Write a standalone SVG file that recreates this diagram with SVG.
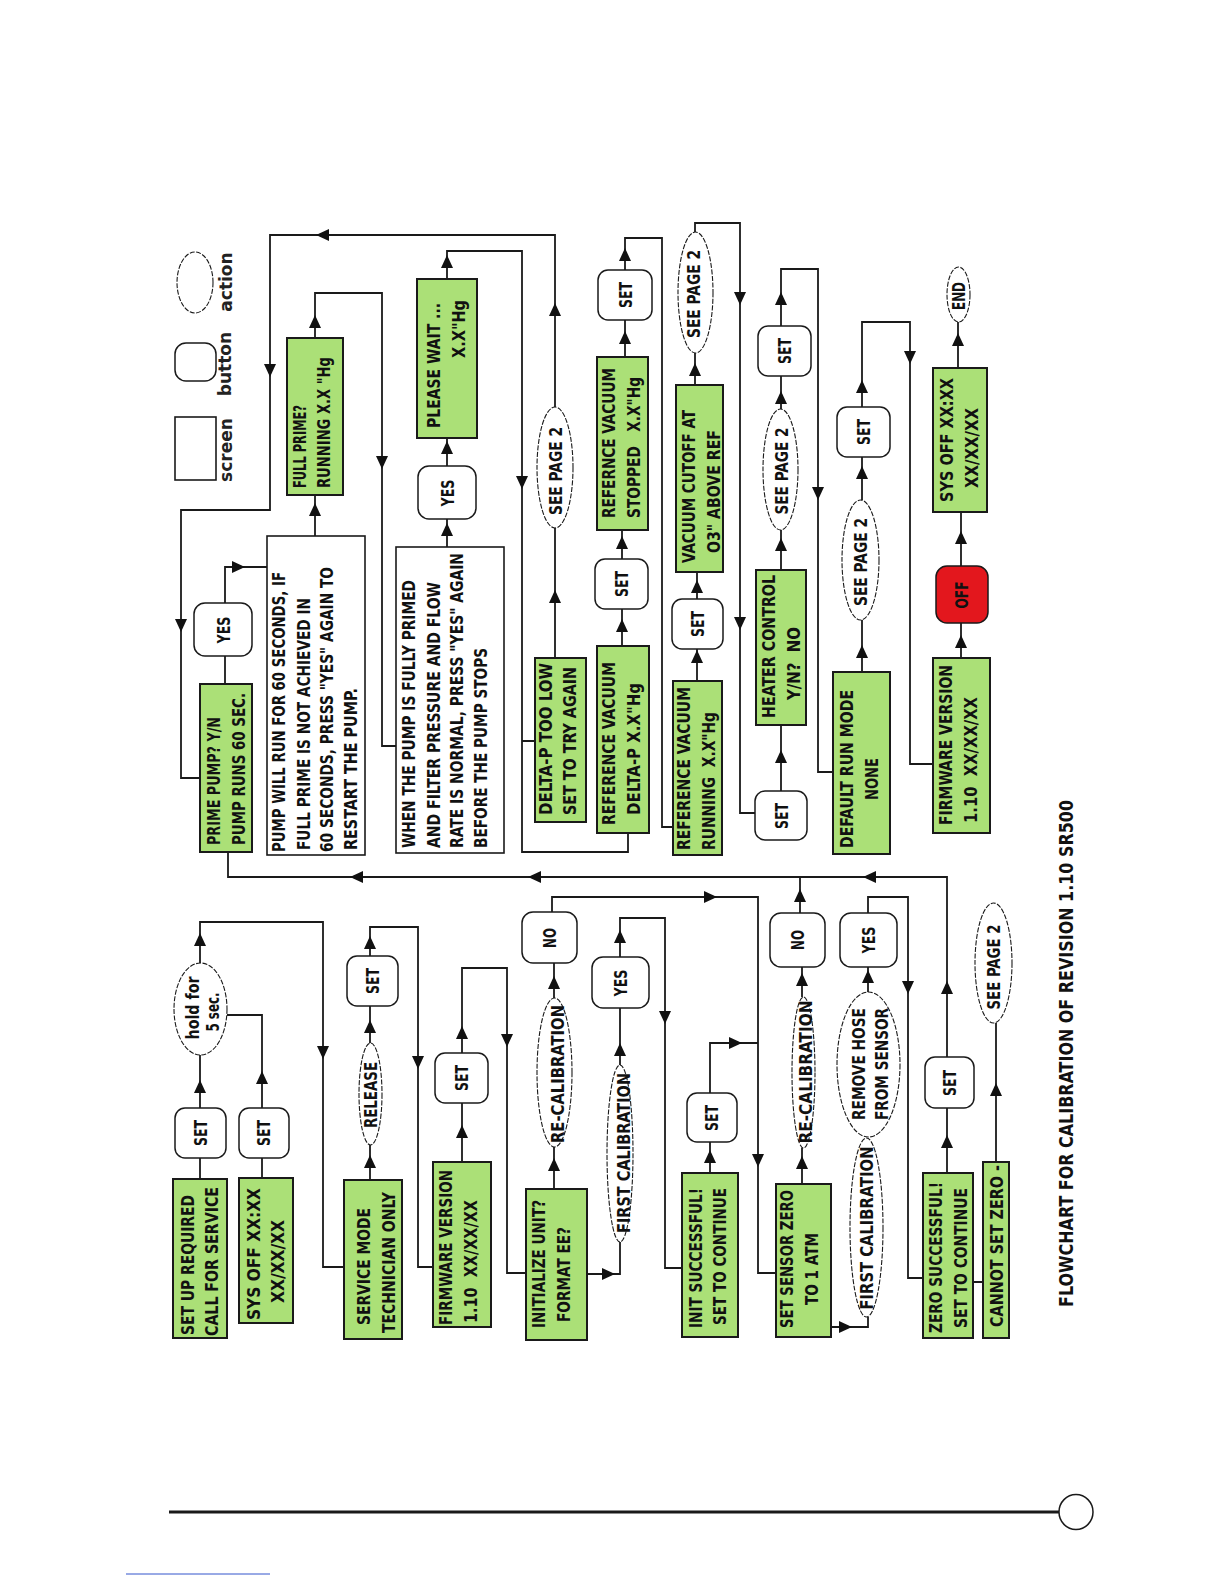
<svg xmlns="http://www.w3.org/2000/svg" xmlns:xlink="http://www.w3.org/1999/xlink" width="1224" height="1584" viewBox="0 0 1224 1584">
<style>
.scr{fill:#abe077;stroke:#1a1a1a;stroke-width:2}
.note{fill:#fff;stroke:#1a1a1a;stroke-width:1.6}
.btn{fill:#fff;stroke:#1a1a1a;stroke-width:1.5}
.off{fill:#e3171d;stroke:#1a1a1a;stroke-width:1.5}
.act{fill:#fff;stroke:#1a1a1a;stroke-width:1.1;stroke-dasharray:5 1.5}
.ln{fill:none;stroke:#1a1a1a;stroke-width:1.8}
.t{font-family:"DejaVu Sans Condensed","DejaVu Sans",sans-serif;font-weight:bold;font-size:18.5px;fill:#111;white-space:pre}
.c{text-anchor:middle}
.lg{font-family:"DejaVu Sans","Liberation Sans",sans-serif;font-weight:bold;font-size:17px;fill:#222;text-anchor:middle}
.ti{font-family:"DejaVu Sans Condensed","DejaVu Sans",sans-serif;font-weight:bold;font-size:20px;fill:#111}
</style>
<defs>
<path id="ah" d="M7,0 L-6,-6 L-6,6 Z" fill="#111"/>
</defs>
<rect width="1224" height="1584" fill="#fff"/>
<g id="connectors">
<path class="ln" d="M200,1179V1158 M200,1108V1055 M200,963V922H323V1267H344 M262,1178V1158 M262,1108V1015H227 M370,1180V1145 M370,1043V1006 M370,956V927H418V1267H433 M462,1162V1103 M462,1053V968H507V1273H526 M554,1189V1147 M554,998V963 M552,912V897H758V1273H776 M587,1274H620V1242 M620,1065V1008 M620,957V918H665V1268H682 M710,1173V1142 M710,1093V1043H758 M802,1184V1148 M802,997V967 M800,915V877 M831,1327H868V1317 M868,992V967 M868,913V897H908V1278H923 M947,1173V1108 M947,1057V877H228V852 M973,1282H983 M996,1162V1023"/>
<path class="ln" d="M225,684V656 M225,603V567H267 M315,536V495 M315,338V293H382V746H396 M447,547V519 M447,466V438 M447,279V251H522V852H628V833 M522,741H535 M555,658V528 M555,407V235H270V510H181V778H200 M622,646V609 M622,559V530 M625,357V320 M625,270V238H662V827H673 M697,681V649 M697,599V572 M695,385V353 M695,232V223H740V813H755 M781,791V725 M781,570V530 M781,409V376 M781,326V269H818V772H833 M862,672V620 M862,500V457 M862,407V322H910V764H933 M961,658V623 M961,566V512 M958,368V322"/>
<g id="arrows-up">
<use xlink:href="#ah" transform="translate(200,1087) rotate(-90)"/>
<use xlink:href="#ah" transform="translate(200,940) rotate(-90)"/>
<use xlink:href="#ah" transform="translate(262,1078) rotate(-90)"/>
<use xlink:href="#ah" transform="translate(370,1162) rotate(-90)"/>
<use xlink:href="#ah" transform="translate(370,1027) rotate(-90)"/>
<use xlink:href="#ah" transform="translate(370,943) rotate(-90)"/>
<use xlink:href="#ah" transform="translate(462,1132) rotate(-90)"/>
<use xlink:href="#ah" transform="translate(462,1033) rotate(-90)"/>
<use xlink:href="#ah" transform="translate(554,1165) rotate(-90)"/>
<use xlink:href="#ah" transform="translate(554,983) rotate(-90)"/>
<use xlink:href="#ah" transform="translate(620,1050) rotate(-90)"/>
<use xlink:href="#ah" transform="translate(620,937) rotate(-90)"/>
<use xlink:href="#ah" transform="translate(710,1157) rotate(-90)"/>
<use xlink:href="#ah" transform="translate(802,1163) rotate(-90)"/>
<use xlink:href="#ah" transform="translate(802,980) rotate(-90)"/>
<use xlink:href="#ah" transform="translate(800,896) rotate(-90)"/>
<use xlink:href="#ah" transform="translate(868,977) rotate(-90)"/>
<use xlink:href="#ah" transform="translate(947,1142) rotate(-90)"/>
<use xlink:href="#ah" transform="translate(947,988) rotate(-90)"/>
<use xlink:href="#ah" transform="translate(996,1090) rotate(-90)"/>
<use xlink:href="#ah" transform="translate(315,510) rotate(-90)"/>
<use xlink:href="#ah" transform="translate(315,322) rotate(-90)"/>
<use xlink:href="#ah" transform="translate(447,530) rotate(-90)"/>
<use xlink:href="#ah" transform="translate(447,448) rotate(-90)"/>
<use xlink:href="#ah" transform="translate(447,262) rotate(-90)"/>
<use xlink:href="#ah" transform="translate(555,597) rotate(-90)"/>
<use xlink:href="#ah" transform="translate(555,310) rotate(-90)"/>
<use xlink:href="#ah" transform="translate(622,626) rotate(-90)"/>
<use xlink:href="#ah" transform="translate(622,543) rotate(-90)"/>
<use xlink:href="#ah" transform="translate(625,338) rotate(-90)"/>
<use xlink:href="#ah" transform="translate(625,255) rotate(-90)"/>
<use xlink:href="#ah" transform="translate(697,657) rotate(-90)"/>
<use xlink:href="#ah" transform="translate(697,587) rotate(-90)"/>
<use xlink:href="#ah" transform="translate(695,370) rotate(-90)"/>
<use xlink:href="#ah" transform="translate(781,757) rotate(-90)"/>
<use xlink:href="#ah" transform="translate(781,545) rotate(-90)"/>
<use xlink:href="#ah" transform="translate(781,398) rotate(-90)"/>
<use xlink:href="#ah" transform="translate(781,299) rotate(-90)"/>
<use xlink:href="#ah" transform="translate(862,652) rotate(-90)"/>
<use xlink:href="#ah" transform="translate(862,473) rotate(-90)"/>
<use xlink:href="#ah" transform="translate(862,387) rotate(-90)"/>
<use xlink:href="#ah" transform="translate(961,642) rotate(-90)"/>
<use xlink:href="#ah" transform="translate(961,538) rotate(-90)"/>
<use xlink:href="#ah" transform="translate(958,340) rotate(-90)"/>
</g>
<g id="arrows-down">
<use xlink:href="#ah" transform="translate(323,1052) rotate(90)"/>
<use xlink:href="#ah" transform="translate(418,1062) rotate(90)"/>
<use xlink:href="#ah" transform="translate(507,1040) rotate(90)"/>
<use xlink:href="#ah" transform="translate(758,1160) rotate(90)"/>
<use xlink:href="#ah" transform="translate(665,1017) rotate(90)"/>
<use xlink:href="#ah" transform="translate(908,987) rotate(90)"/>
<use xlink:href="#ah" transform="translate(382,462) rotate(90)"/>
<use xlink:href="#ah" transform="translate(522,482) rotate(90)"/>
<use xlink:href="#ah" transform="translate(270,370) rotate(90)"/>
<use xlink:href="#ah" transform="translate(181,625) rotate(90)"/>
<use xlink:href="#ah" transform="translate(740,298) rotate(90)"/>
<use xlink:href="#ah" transform="translate(740,623) rotate(90)"/>
<use xlink:href="#ah" transform="translate(818,493) rotate(90)"/>
<use xlink:href="#ah" transform="translate(910,357) rotate(90)"/>
</g>
<g id="arrows-side">
<use xlink:href="#ah" transform="translate(710,897)"/>
<use xlink:href="#ah" transform="translate(608,1274)"/>
<use xlink:href="#ah" transform="translate(735,1043)"/>
<use xlink:href="#ah" transform="translate(845,1327)"/>
<use xlink:href="#ah" transform="translate(238,567)"/>
<use xlink:href="#ah" transform="translate(870,877) rotate(180)"/>
<use xlink:href="#ah" transform="translate(535,877) rotate(180)"/>
<use xlink:href="#ah" transform="translate(357,877) rotate(180)"/>
<use xlink:href="#ah" transform="translate(323,235) rotate(180)"/>
</g>
</g>
<g id="legend">
<rect class="note" x="175" y="417" width="41" height="63"/>
<text class="lg" transform="translate(232,450) rotate(-90)">screen</text>
<rect class="btn" x="175" y="343" width="41" height="38" rx="11"/>
<text class="lg" transform="translate(231,364) rotate(-90)">button</text>
<ellipse class="act" cx="195" cy="282.5" rx="18" ry="30.5"/>
<text class="lg" transform="translate(232,282) rotate(-90)">action</text>
</g>
<g id="n-setup"><rect class="scr" x="173" y="1179" width="54" height="159"/>
<text class="t" transform="translate(194,1335) rotate(-90)" textLength="140" lengthAdjust="spacingAndGlyphs">SET UP REQUIRED</text>
<text class="t" transform="translate(218,1336) rotate(-90)" textLength="149" lengthAdjust="spacingAndGlyphs">CALL FOR SERVICE</text></g>
<g id="n-set1"><rect class="btn" x="175" y="1108" width="51" height="50" rx="10"/>
<text class="t c" transform="translate(207,1133) rotate(-90)" textLength="26" lengthAdjust="spacingAndGlyphs">SET</text></g>
<g id="n-hold"><ellipse class="act" cx="200.5" cy="1009" rx="26.5" ry="46"/>
<text class="t c" transform="translate(199,1008) rotate(-90)" textLength="63" lengthAdjust="spacingAndGlyphs">hold for</text>
<text class="t c" transform="translate(219,1012) rotate(-90)" textLength="39" lengthAdjust="spacingAndGlyphs">5 sec.</text></g>
<g id="n-sysoff1"><rect class="scr" x="239" y="1178" width="54" height="145"/>
<text class="t" transform="translate(260,1320) rotate(-90)" textLength="132" lengthAdjust="spacingAndGlyphs">SYS OFF XX:XX</text>
<text class="t" transform="translate(284,1303) rotate(-90)" textLength="83" lengthAdjust="spacingAndGlyphs">XX/XX/XX</text></g>
<g id="n-set2"><rect class="btn" x="239" y="1108" width="50" height="50" rx="10"/>
<text class="t c" transform="translate(270,1133) rotate(-90)" textLength="26" lengthAdjust="spacingAndGlyphs">SET</text></g>
<g id="n-service"><rect class="scr" x="344" y="1180" width="58" height="159"/>
<text class="t" transform="translate(370,1325) rotate(-90)" textLength="117" lengthAdjust="spacingAndGlyphs">SERVICE MODE</text>
<text class="t" transform="translate(395,1333) rotate(-90)" textLength="141" lengthAdjust="spacingAndGlyphs">TECHNICIAN ONLY</text></g>
<g id="n-release"><ellipse class="act" cx="370.5" cy="1094" rx="11.5" ry="51"/>
<text class="t c" transform="translate(377,1095) rotate(-90)" textLength="66" lengthAdjust="spacingAndGlyphs">RELEASE</text></g>
<g id="n-set3"><rect class="btn" x="347" y="956" width="51" height="50" rx="10"/>
<text class="t c" transform="translate(379,981) rotate(-90)" textLength="26" lengthAdjust="spacingAndGlyphs">SET</text></g>
<g id="n-fw1"><rect class="scr" x="433" y="1162" width="58" height="165"/>
<text class="t" transform="translate(452,1325) rotate(-90)" textLength="155" lengthAdjust="spacingAndGlyphs">FIRMWARE VERSION</text>
<text class="t" transform="translate(477,1323) rotate(-90)" textLength="123" lengthAdjust="spacingAndGlyphs">1.10&#160; XX/XX/XX</text></g>
<g id="n-set4"><rect class="btn" x="435" y="1053" width="53" height="50" rx="10"/>
<text class="t c" transform="translate(468,1078) rotate(-90)" textLength="26" lengthAdjust="spacingAndGlyphs">SET</text></g>
<g id="n-init"><rect class="scr" x="526" y="1189" width="61" height="151"/>
<text class="t" transform="translate(545,1328) rotate(-90)" textLength="128" lengthAdjust="spacingAndGlyphs">INITIALIZE UNIT?</text>
<text class="t" transform="translate(570,1322) rotate(-90)" textLength="95" lengthAdjust="spacingAndGlyphs">FORMAT EE?</text></g>
<g id="n-recal1"><ellipse class="act" cx="554.5" cy="1072.5" rx="17.5" ry="74.5"/>
<text class="t c" transform="translate(564,1074) rotate(-90)" textLength="138" lengthAdjust="spacingAndGlyphs">RE-CALIBRATION</text></g>
<g id="n-no1"><rect class="btn" x="522" y="912" width="55" height="51" rx="11"/>
<text class="t c" transform="translate(556,938) rotate(-90)" textLength="20" lengthAdjust="spacingAndGlyphs">NO</text></g>
<g id="n-firstcal1"><ellipse class="act" cx="620" cy="1153.5" rx="13" ry="88.5"/>
<text class="t c" transform="translate(630,1153) rotate(-90)" textLength="160" lengthAdjust="spacingAndGlyphs">FIRST CALIBRATION</text></g>
<g id="n-yes1"><rect class="btn" x="592" y="957" width="57" height="51" rx="11"/>
<text class="t c" transform="translate(627,983) rotate(-90)" textLength="27" lengthAdjust="spacingAndGlyphs">YES</text></g>
<g id="n-initok"><rect class="scr" x="682" y="1173" width="56" height="164"/>
<text class="t" transform="translate(702,1328) rotate(-90)" textLength="140" lengthAdjust="spacingAndGlyphs">INIT SUCCESSFUL!</text>
<text class="t" transform="translate(726,1325) rotate(-90)" textLength="137" lengthAdjust="spacingAndGlyphs">SET TO CONTINUE</text></g>
<g id="n-set5"><rect class="btn" x="687" y="1093" width="50" height="49" rx="10"/>
<text class="t c" transform="translate(718,1118) rotate(-90)" textLength="26" lengthAdjust="spacingAndGlyphs">SET</text></g>
<g id="n-sensorzero"><rect class="scr" x="776" y="1184" width="55" height="153"/>
<text class="t" transform="translate(793,1328) rotate(-90)" textLength="138" lengthAdjust="spacingAndGlyphs">SET SENSOR ZERO</text>
<text class="t" transform="translate(818,1305) rotate(-90)" textLength="72" lengthAdjust="spacingAndGlyphs">TO 1 ATM</text></g>
<g id="n-recal2"><ellipse class="act" cx="803.5" cy="1072.5" rx="11.5" ry="75.5"/>
<text class="t c" transform="translate(812,1072) rotate(-90)" textLength="143" lengthAdjust="spacingAndGlyphs">RE-CALIBRATION</text></g>
<g id="n-no2"><rect class="btn" x="770" y="913" width="55" height="54" rx="11"/>
<text class="t c" transform="translate(804,940) rotate(-90)" textLength="20" lengthAdjust="spacingAndGlyphs">NO</text></g>
<g id="n-firstcal2"><ellipse class="act" cx="866.5" cy="1227.5" rx="16.5" ry="89.5"/>
<text class="t c" transform="translate(873,1228) rotate(-90)" textLength="163" lengthAdjust="spacingAndGlyphs">FIRST CALIBRATION</text></g>
<g id="n-hose"><ellipse class="act" cx="868.5" cy="1064.5" rx="31.5" ry="72.5"/>
<text class="t c" transform="translate(865,1064) rotate(-90)" textLength="112" lengthAdjust="spacingAndGlyphs">REMOVE HOSE</text>
<text class="t c" transform="translate(888,1064) rotate(-90)" textLength="112" lengthAdjust="spacingAndGlyphs">FROM SENSOR</text></g>
<g id="n-yes2"><rect class="btn" x="840" y="913" width="57" height="54" rx="11"/>
<text class="t c" transform="translate(875,940) rotate(-90)" textLength="27" lengthAdjust="spacingAndGlyphs">YES</text></g>
<g id="n-zerook"><rect class="scr" x="923" y="1173" width="50" height="165"/>
<text class="t" transform="translate(942,1333) rotate(-90)" textLength="151" lengthAdjust="spacingAndGlyphs">ZERO SUCCESSFUL!</text>
<text class="t" transform="translate(967,1328) rotate(-90)" textLength="140" lengthAdjust="spacingAndGlyphs">SET TO CONTINUE</text></g>
<g id="n-set6"><rect class="btn" x="925" y="1057" width="49" height="51" rx="10"/>
<text class="t c" transform="translate(956,1083) rotate(-90)" textLength="26" lengthAdjust="spacingAndGlyphs">SET</text></g>
<g id="n-cannot"><rect class="scr" x="983" y="1162" width="26" height="176"/>
<text class="t" transform="translate(1003,1327) rotate(-90)" textLength="162" lengthAdjust="spacingAndGlyphs">CANNOT SET ZERO -</text></g>
<g id="n-page2a"><ellipse class="act" cx="993.5" cy="963" rx="18.5" ry="60"/>
<text class="t c" transform="translate(1000,967) rotate(-90)" textLength="85" lengthAdjust="spacingAndGlyphs">SEE PAGE 2</text></g>
<g id="n-prime"><rect class="scr" x="200" y="684" width="52" height="168"/>
<text class="t" transform="translate(220,845) rotate(-90)" textLength="128" lengthAdjust="spacingAndGlyphs">PRIME PUMP? Y/N</text>
<text class="t" transform="translate(245,845) rotate(-90)" textLength="152" lengthAdjust="spacingAndGlyphs">PUMP RUNS 60 SEC.</text></g>
<g id="n-yes3"><rect class="btn" x="194" y="603" width="58" height="53" rx="11"/>
<text class="t c" transform="translate(230,630) rotate(-90)" textLength="27" lengthAdjust="spacingAndGlyphs">YES</text></g>
<g id="n-note1"><rect class="note" x="267" y="536" width="98" height="319"/>
<text class="t" transform="translate(285,852) rotate(-90)" textLength="280" lengthAdjust="spacingAndGlyphs">PUMP WILL RUN FOR 60 SECONDS, IF</text>
<text class="t" transform="translate(310,850) rotate(-90)" textLength="252" lengthAdjust="spacingAndGlyphs">FULL PRIME IS NOT ACHIEVED IN</text>
<text class="t" transform="translate(333,852) rotate(-90)" textLength="285" lengthAdjust="spacingAndGlyphs">60 SECONDS, PRESS "YES" AGAIN TO</text>
<text class="t" transform="translate(357,850) rotate(-90)" textLength="162" lengthAdjust="spacingAndGlyphs">RESTART THE PUMP.</text></g>
<g id="n-fullprime"><rect class="scr" x="287" y="338" width="56" height="157"/>
<text class="t" transform="translate(306,488) rotate(-90)" textLength="83" lengthAdjust="spacingAndGlyphs">FULL PRIME?</text>
<text class="t" transform="translate(330,488) rotate(-90)" textLength="131" lengthAdjust="spacingAndGlyphs">RUNNING X.X "Hg</text></g>
<g id="n-note2"><rect class="note" x="396" y="547" width="108" height="306"/>
<text class="t" transform="translate(415,848) rotate(-90)" textLength="268" lengthAdjust="spacingAndGlyphs">WHEN THE PUMP IS FULLY PRIMED</text>
<text class="t" transform="translate(440,848) rotate(-90)" textLength="266" lengthAdjust="spacingAndGlyphs">AND FILTER PRESSURE AND FLOW</text>
<text class="t" transform="translate(463,848) rotate(-90)" textLength="295" lengthAdjust="spacingAndGlyphs">RATE IS NORMAL, PRESS "YES" AGAIN</text>
<text class="t" transform="translate(487,848) rotate(-90)" textLength="200" lengthAdjust="spacingAndGlyphs">BEFORE THE PUMP STOPS</text></g>
<g id="n-yes4"><rect class="btn" x="418" y="466" width="58" height="53" rx="11"/>
<text class="t c" transform="translate(454,493) rotate(-90)" textLength="27" lengthAdjust="spacingAndGlyphs">YES</text></g>
<g id="n-wait"><rect class="scr" x="417" y="279" width="60" height="159"/>
<text class="t" transform="translate(440,428) rotate(-90)" textLength="125" lengthAdjust="spacingAndGlyphs">PLEASE WAIT ...</text>
<text class="t" transform="translate(465,358) rotate(-90)" textLength="58" lengthAdjust="spacingAndGlyphs">X.X"Hg</text></g>
<g id="n-page2b"><ellipse class="act" cx="555" cy="467.5" rx="18" ry="60.5"/>
<text class="t c" transform="translate(562,471) rotate(-90)" textLength="88" lengthAdjust="spacingAndGlyphs">SEE PAGE 2</text></g>
<g id="n-deltalow"><rect class="scr" x="535" y="658" width="51" height="164"/>
<text class="t" transform="translate(552,815) rotate(-90)" textLength="152" lengthAdjust="spacingAndGlyphs">DELTA-P TOO LOW</text>
<text class="t" transform="translate(576,815) rotate(-90)" textLength="148" lengthAdjust="spacingAndGlyphs">SET TO TRY AGAIN</text></g>
<g id="n-refdelta"><rect class="scr" x="597" y="646" width="52" height="187"/>
<text class="t" transform="translate(615,825) rotate(-90)" textLength="163" lengthAdjust="spacingAndGlyphs">REFERENCE VACUUM</text>
<text class="t" transform="translate(640,815) rotate(-90)" textLength="132" lengthAdjust="spacingAndGlyphs">DELTA-P X.X"Hg</text></g>
<g id="n-set7"><rect class="btn" x="595" y="559" width="53" height="50" rx="10"/>
<text class="t c" transform="translate(628,584) rotate(-90)" textLength="26" lengthAdjust="spacingAndGlyphs">SET</text></g>
<g id="n-refstop"><rect class="scr" x="597" y="357" width="51" height="173"/>
<text class="t" transform="translate(615,518) rotate(-90)" textLength="150" lengthAdjust="spacingAndGlyphs">REFERNCE VACUUM</text>
<text class="t" transform="translate(640,518) rotate(-90)" textLength="141" lengthAdjust="spacingAndGlyphs">STOPPED&#160;&#160; X.X"Hg</text></g>
<g id="n-set8"><rect class="btn" x="598" y="270" width="54" height="50" rx="10"/>
<text class="t c" transform="translate(632,295) rotate(-90)" textLength="26" lengthAdjust="spacingAndGlyphs">SET</text></g>
<g id="n-refrun"><rect class="scr" x="673" y="681" width="49" height="174"/>
<text class="t" transform="translate(690,850) rotate(-90)" textLength="163" lengthAdjust="spacingAndGlyphs">REFERENCE VACUUM</text>
<text class="t" transform="translate(715,850) rotate(-90)" textLength="138" lengthAdjust="spacingAndGlyphs">RUNNING&#160; X.X"Hg</text></g>
<g id="n-set9"><rect class="btn" x="672" y="599" width="51" height="50" rx="10"/>
<text class="t c" transform="translate(704,624) rotate(-90)" textLength="26" lengthAdjust="spacingAndGlyphs">SET</text></g>
<g id="n-cutoff"><rect class="scr" x="676" y="385" width="47" height="187"/>
<text class="t" transform="translate(695,563) rotate(-90)" textLength="153" lengthAdjust="spacingAndGlyphs">VACUUM CUTOFF AT</text>
<text class="t" transform="translate(720,553) rotate(-90)" textLength="123" lengthAdjust="spacingAndGlyphs">O3" ABOVE REF</text></g>
<g id="n-page2c"><ellipse class="act" cx="695.5" cy="292.5" rx="17.5" ry="60.5"/>
<text class="t c" transform="translate(700,294) rotate(-90)" textLength="88" lengthAdjust="spacingAndGlyphs">SEE PAGE 2</text></g>
<g id="n-set10"><rect class="btn" x="755" y="791" width="52" height="49" rx="10"/>
<text class="t c" transform="translate(788,816) rotate(-90)" textLength="26" lengthAdjust="spacingAndGlyphs">SET</text></g>
<g id="n-heater"><rect class="scr" x="756" y="570" width="50" height="155"/>
<text class="t" transform="translate(775,718) rotate(-90)" textLength="143" lengthAdjust="spacingAndGlyphs">HEATER CONTROL</text>
<text class="t" transform="translate(800,700) rotate(-90)" textLength="73" lengthAdjust="spacingAndGlyphs">Y/N?&#160; NO</text></g>
<g id="n-page2d"><ellipse class="act" cx="780.5" cy="469.5" rx="17.5" ry="60.5"/>
<text class="t c" transform="translate(788,471) rotate(-90)" textLength="87" lengthAdjust="spacingAndGlyphs">SEE PAGE 2</text></g>
<g id="n-set11"><rect class="btn" x="758" y="326" width="53" height="50" rx="10"/>
<text class="t c" transform="translate(791,351) rotate(-90)" textLength="26" lengthAdjust="spacingAndGlyphs">SET</text></g>
<g id="n-default"><rect class="scr" x="833" y="672" width="57" height="182"/>
<text class="t" transform="translate(853,848) rotate(-90)" textLength="158" lengthAdjust="spacingAndGlyphs">DEFAULT RUN MODE</text>
<text class="t" transform="translate(878,800) rotate(-90)" textLength="42" lengthAdjust="spacingAndGlyphs">NONE</text></g>
<g id="n-page2e"><ellipse class="act" cx="860.5" cy="560" rx="18.5" ry="60"/>
<text class="t c" transform="translate(867,562) rotate(-90)" textLength="88" lengthAdjust="spacingAndGlyphs">SEE PAGE 2</text></g>
<g id="n-set12"><rect class="btn" x="837" y="407" width="53" height="50" rx="10"/>
<text class="t c" transform="translate(870,432) rotate(-90)" textLength="26" lengthAdjust="spacingAndGlyphs">SET</text></g>
<g id="n-fw2"><rect class="scr" x="933" y="658" width="57" height="175"/>
<text class="t" transform="translate(952,825) rotate(-90)" textLength="160" lengthAdjust="spacingAndGlyphs">FIRMWARE VERSION</text>
<text class="t" transform="translate(977,823) rotate(-90)" textLength="126" lengthAdjust="spacingAndGlyphs">1.10&#160; XX/XX/XX</text></g>
<g id="n-off"><rect class="off" x="936" y="566" width="52" height="57" rx="11"/>
<text class="t c" transform="translate(968,595) rotate(-90)" textLength="27" lengthAdjust="spacingAndGlyphs">OFF</text></g>
<g id="n-sysoff2"><rect class="scr" x="933" y="368" width="54" height="144"/>
<text class="t" transform="translate(953,502) rotate(-90)" textLength="124" lengthAdjust="spacingAndGlyphs">SYS OFF XX:XX</text>
<text class="t" transform="translate(978,488) rotate(-90)" textLength="80" lengthAdjust="spacingAndGlyphs">XX/XX/XX</text></g>
<g id="n-end"><ellipse class="act" cx="958.5" cy="294.5" rx="11.5" ry="27.5"/>
<text class="t c" transform="translate(965,296) rotate(-90)" textLength="28" lengthAdjust="spacingAndGlyphs">END</text></g>
<g id="title">
<text class="ti" transform="translate(1073,1307) rotate(-90)" textLength="507" lengthAdjust="spacingAndGlyphs">FLOWCHART FOR CALIBRATION OF REVISION 1.10 SR500</text>
</g>
<g id="footer">
<line x1="169" y1="1512" x2="1059" y2="1512" stroke="#1a1a1a" stroke-width="3"/>
<ellipse cx="1076" cy="1512" rx="17" ry="17.5" fill="#fff" stroke="#1a1a1a" stroke-width="1.5"/>
<line x1="126" y1="1574" x2="270" y2="1574" stroke="#3355cc" stroke-width="1"/>
</g>
</svg>
